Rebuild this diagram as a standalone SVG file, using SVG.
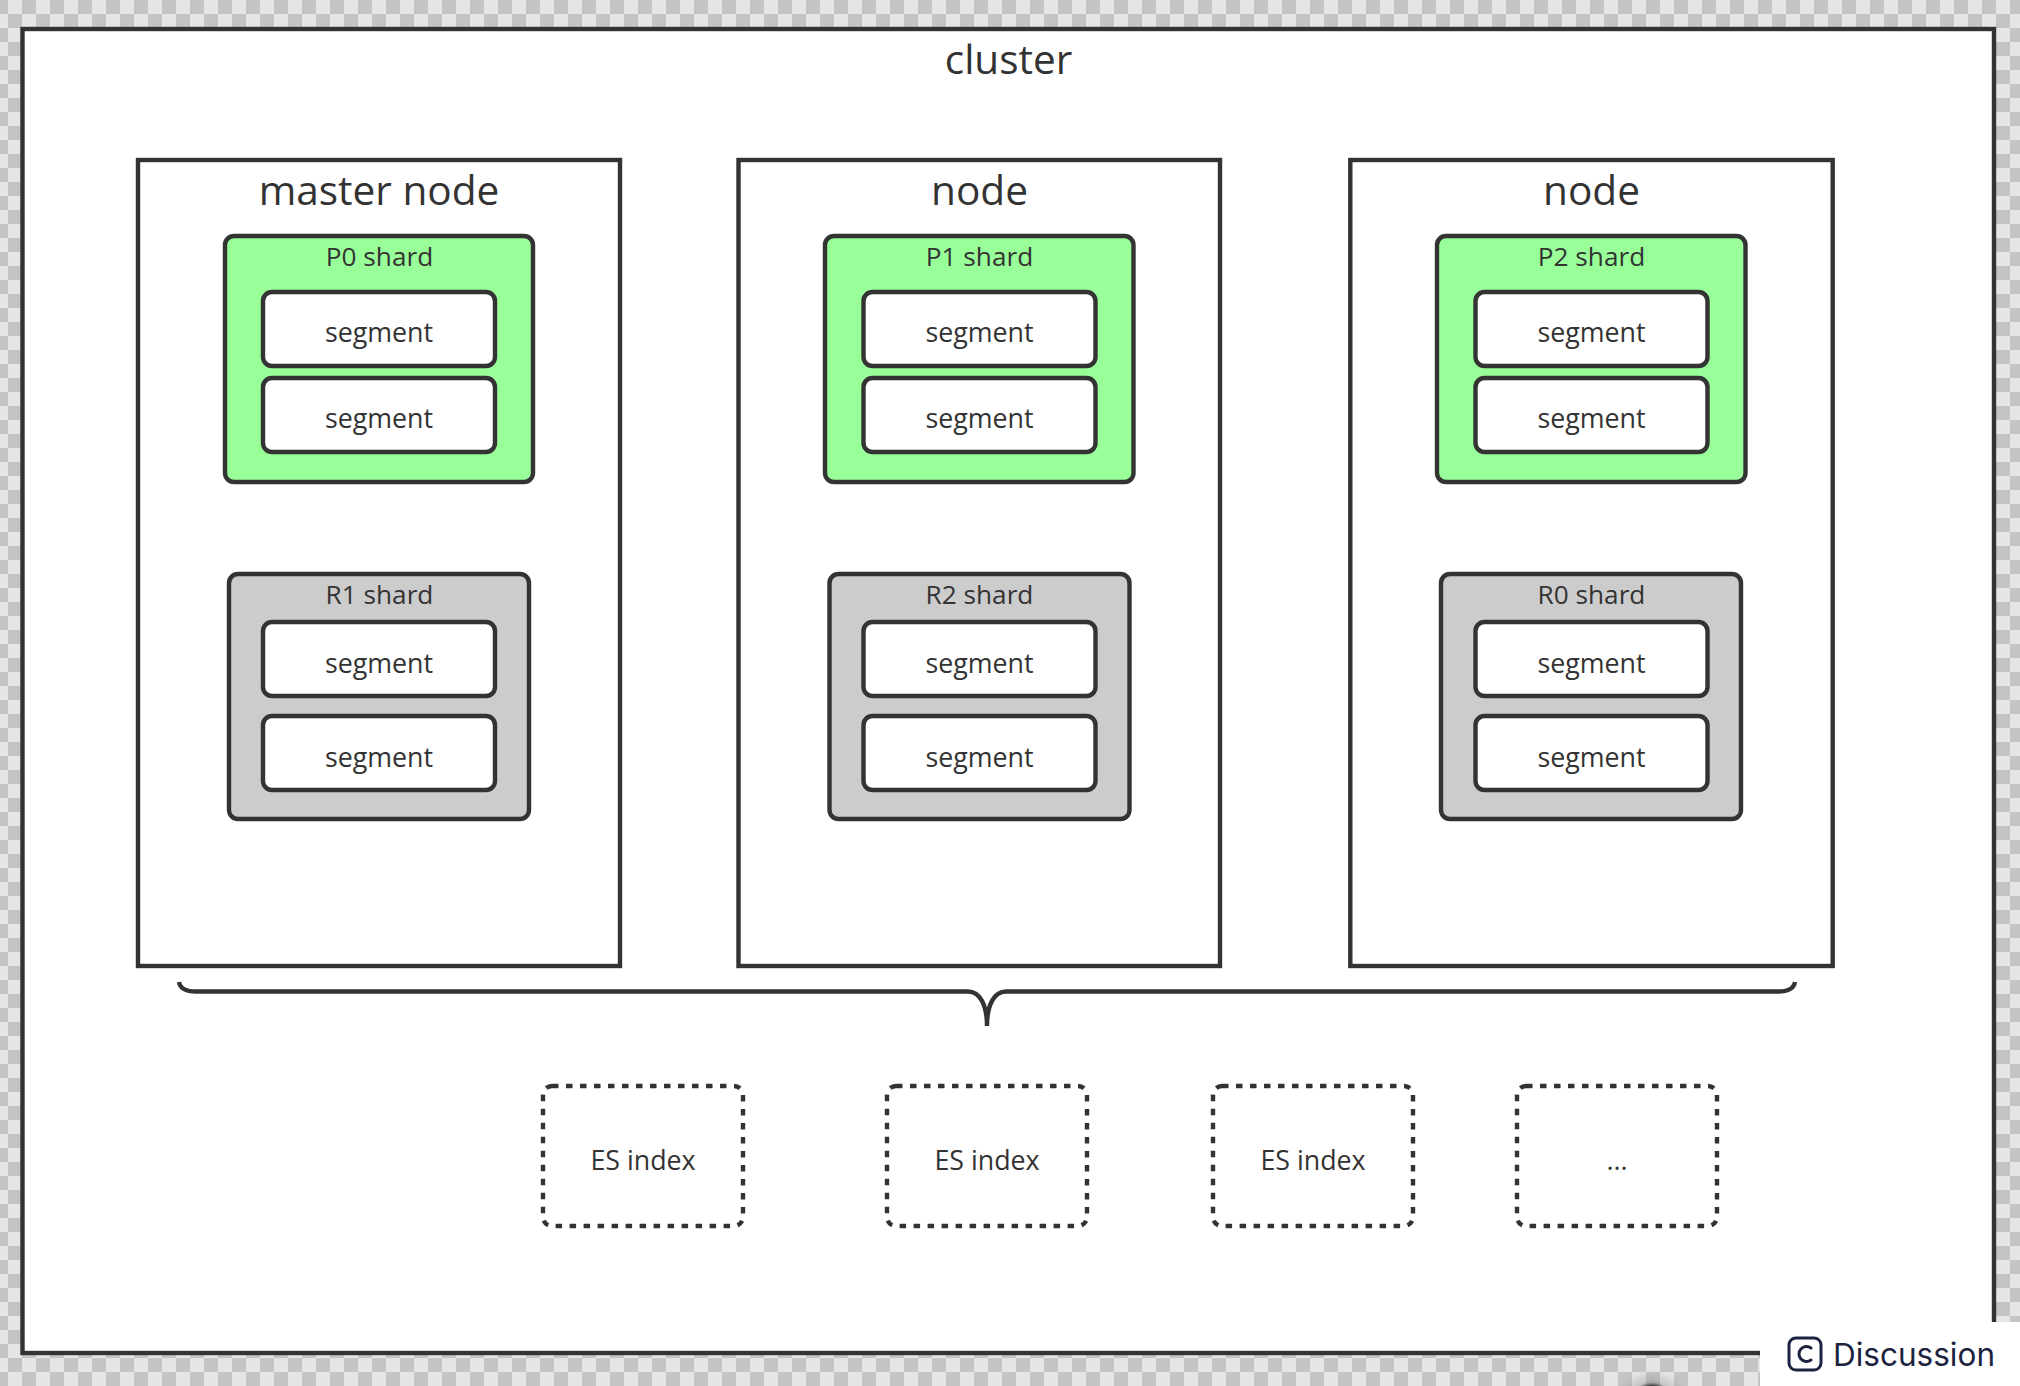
<svg xmlns="http://www.w3.org/2000/svg" width="2020" height="1386" viewBox="0 0 2020 1386">
<defs>
<pattern id="ck" width="28" height="28" patternUnits="userSpaceOnUse" x="-6" y="0"><rect width="28" height="28" fill="#e5e5e5"/><rect width="14" height="14" fill="#c4c4c4"/><rect x="14" y="14" width="14" height="14" fill="#c4c4c4"/></pattern>
<radialGradient id="sm"><stop offset="0" stop-color="#222"/><stop offset="0.35" stop-color="#333" stop-opacity="0.9"/><stop offset="0.5" stop-color="#777" stop-opacity="0.3"/><stop offset="1" stop-color="#999" stop-opacity="0"/></radialGradient>
<g id="seg"><rect x="-116" y="0" width="232" height="74" rx="9" class="s w"/><text x="0" y="49.500" class="t m">segment</text></g>
<g id="seg2"><rect x="-116" y="0" width="232" height="74" rx="9" class="s w"/><text x="0" y="50.500" class="t m">segment</text></g>
</defs>
<style>
.s{stroke:#333;stroke-width:4.400}
.w{fill:#fff}
.t{font-family:"Open Sans","Noto Sans",sans-serif;fill:#333;text-anchor:middle}
.m{font-size:26.800px}
.n{font-size:26.200px}
.l{font-size:40.600px}
.d{fill:#fff;stroke:#333;stroke-width:4.400;stroke-dasharray:6.500 7.500}
.g{fill:#99ff99}
.h{fill:#cccccc}
</style>
<rect width="2020" height="1386" fill="url(#ck)"/>
<ellipse cx="1652" cy="1394" rx="36" ry="24" fill="url(#sm)"/>
<g id="cluster"><rect x="22.500" y="29" width="1971.500" height="1324" class="s w"/><text x="1008.500" y="74" class="t" font-size="40.500">cluster</text></g>
<g id="master-node"><rect x="138" y="160" width="482" height="806" class="s w"/><text x="379" y="205" class="t l">master node</text></g>
<g id="node-1"><rect x="738.500" y="160" width="481.500" height="806" class="s w"/><text x="979.500" y="205" class="t l">node</text></g>
<g id="node-2"><rect x="1350.300" y="160" width="482.400" height="806" class="s w"/><text x="1591.500" y="205" class="t l">node</text></g>
<g id="p0"><rect x="225" y="236" width="308" height="246" rx="9" class="s g"/><text x="379.500" y="265.500" class="t n">P0 shard</text><use href="#seg" x="379" y="292"/><use href="#seg" x="379" y="378"/></g>
<g id="p1"><rect x="825" y="236" width="308.500" height="246" rx="9" class="s g"/><text x="979.500" y="265.500" class="t n">P1 shard</text><use href="#seg" x="979.500" y="292"/><use href="#seg" x="979.500" y="378"/></g>
<g id="p2"><rect x="1437" y="236" width="308.500" height="246" rx="9" class="s g"/><text x="1591.500" y="265.500" class="t n">P2 shard</text><use href="#seg" x="1591.500" y="292"/><use href="#seg" x="1591.500" y="378"/></g>
<g id="r1"><rect x="229" y="574" width="300" height="245" rx="9" class="s h"/><text x="379.500" y="604" class="t n">R1 shard</text><use href="#seg2" x="379" y="622"/><use href="#seg2" x="379" y="716"/></g>
<g id="r2"><rect x="829.500" y="574" width="300" height="245" rx="9" class="s h"/><text x="979.500" y="604" class="t n">R2 shard</text><use href="#seg2" x="979.500" y="622"/><use href="#seg2" x="979.500" y="716"/></g>
<g id="r0"><rect x="1441" y="574" width="300" height="245" rx="9" class="s h"/><text x="1591.500" y="604" class="t n">R0 shard</text><use href="#seg2" x="1591.500" y="622"/><use href="#seg2" x="1591.500" y="716"/></g>
<g id="connectors"><path d="M179 982C180 988 186 991.500 196 991.500H968C980 991.500 987 1005 987 1026C987 1005 994 991.500 1006 991.500H1778C1788 991.500 1794 988 1795 982" fill="none" class="s"/></g>
<g id="index-1"><rect x="543" y="1086" width="200" height="140" rx="9" class="d"/><text x="643" y="1169.500" class="t m">ES index</text></g>
<g id="index-2"><rect x="887" y="1086" width="200" height="140" rx="9" class="d"/><text x="987" y="1169.500" class="t m">ES index</text></g>
<g id="index-3"><rect x="1213" y="1086" width="200" height="140" rx="9" class="d"/><text x="1313" y="1169.500" class="t m">ES index</text></g>
<g id="index-4"><rect x="1517" y="1086" width="200" height="140" rx="9" class="d"/><text x="1617" y="1169.500" class="t m">...</text></g>
<g id="discussion"><rect x="1760" y="1322" width="260" height="64" fill="#fff"/><rect x="1789" y="1338" width="32" height="32" rx="7" fill="none" stroke="#1c2340" stroke-width="3"/><path d="M1811 1348a7.500 7.500 0 1 0 0 12" fill="none" stroke="#1c2340" stroke-width="3" stroke-linecap="round"/><text x="1833" y="1366" font-family="Inter,sans-serif" font-size="31.500" fill="#1c2340">Discussion</text></g>
</svg>
